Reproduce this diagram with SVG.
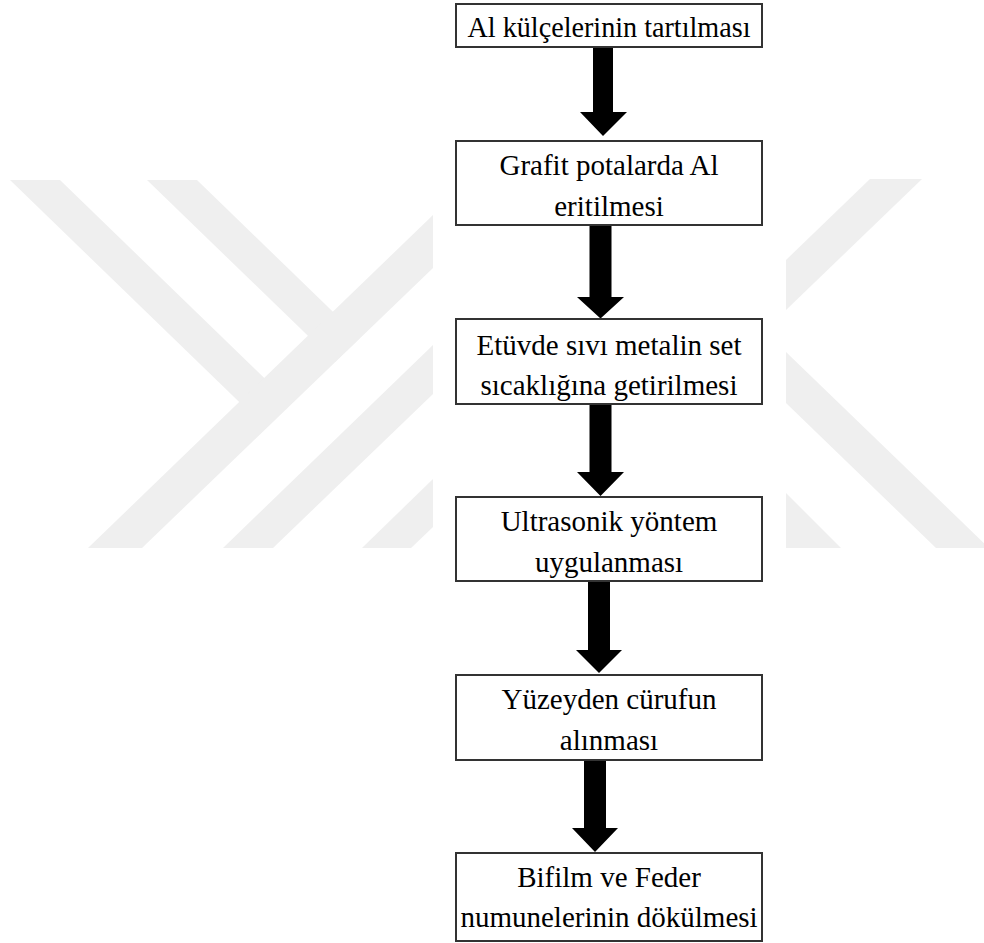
<svg xmlns="http://www.w3.org/2000/svg" width="984" height="943" viewBox="0 0 984 943">
<style>
.wm{fill:#efefef}
.box{fill:#ffffff;stroke:#333333;stroke-width:2}
.arr{fill:#000000}
.lbl{font-family:"Liberation Serif","Times New Roman",serif;font-size:29px;fill:#000000;text-anchor:middle}
</style>
<rect x="0" y="0" width="984" height="943" fill="#ffffff"/>
<g id="watermark">
<polygon class="wm" points="10,180 60,180 291,404 266,428"/>
<polygon class="wm" points="147,180 197,180 360,338 335,362"/>
<polygon class="wm" points="88,548 142,548 433,268 433,215"/>
<polygon class="wm" points="223,548 273,548 433,394 433,345"/>
<polygon class="wm" points="362,548 411,548 433,527 433,479"/>
<polygon class="wm" points="870,179 922,179 786,310 786,260"/>
<polygon class="wm" points="786,352 989,548 936,548 786,403"/>
<polygon class="wm" points="786,493 841,548 786,548"/>
</g>
<g id="connectors">
<polygon class="arr" points="593,47 613,47 613,112 627,112 603,136 580,112 593,112"/>
<polygon class="arr" points="589.5,225 611.5,225 611.5,297 624,297 600.5,318.5 577,297 589.5,297"/>
<polygon class="arr" points="589.5,404 611.5,404 611.5,472 624,472 600.5,496 577,472 589.5,472"/>
<polygon class="arr" points="588,581 610,581 610,650 622,650 599,673 576,650 588,650"/>
<polygon class="arr" points="584,760 606,760 606,828 618,828 595,852 572,828 584,828"/>
</g>
<g id="n1">
<rect class="box" x="456" y="4" width="306" height="43"/>
<text class="lbl" x="609" y="37" textLength="283" lengthAdjust="spacingAndGlyphs">Al külçelerinin tartılması</text>
</g>
<g id="n2">
<rect class="box" x="456" y="141" width="306" height="84"/>
<text class="lbl" x="609" y="175">Grafit potalarda Al</text>
<text class="lbl" x="609" y="216">eritilmesi</text>
</g>
<g id="n3">
<rect class="box" x="456" y="319" width="306" height="85"/>
<text class="lbl" x="609" y="354.5">Etüvde sıvı metalin set</text>
<text class="lbl" x="609" y="394.5">sıcaklığına getirilmesi</text>
</g>
<g id="n4">
<rect class="box" x="456" y="497" width="306" height="84"/>
<text class="lbl" x="609" y="530.5">Ultrasonik yöntem</text>
<text class="lbl" x="609" y="571.5">uygulanması</text>
</g>
<g id="n5">
<rect class="box" x="456" y="675" width="306" height="85"/>
<text class="lbl" x="609" y="708.5">Yüzeyden cürufun</text>
<text class="lbl" x="609" y="749.5">alınması</text>
</g>
<g id="n6">
<rect class="box" x="456" y="853" width="306" height="88"/>
<text class="lbl" x="609" y="887">Bifilm ve Feder</text>
<text class="lbl" x="609" y="927">numunelerinin dökülmesi</text>
</g>
</svg>
